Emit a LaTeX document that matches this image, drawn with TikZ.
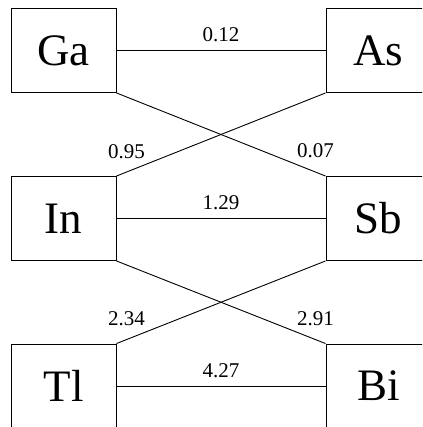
\documentclass[tikz,border=0pt]{standalone}
\usepackage{fontspec}
\newfontfamily\serifface{Liberation Serif}
\begin{document}
\begin{tikzpicture}[x=1pt,y=-1pt,
  elem/.style={draw, line width=0.9pt, rectangle, minimum width=105pt, minimum height=84pt, inner sep=0pt,
    font=\serifface\fontsize{45}{45}\selectfont},
  conn/.style={line width=0.9pt},
  num/.style={inner sep=0pt, font=\serifface\fontsize{21}{21}\selectfont}]
\useasboundingbox (0,0) rectangle (422,427);
\clip (0,0) rectangle (422,427);
\node[elem] (Ga) at (63.5,50.5) {Ga};
\node[elem] (In) at (63.5,218.5) {In};
\node[elem] (Tl) at (63.5,386) {Tl};
\node[elem] (As) at (378.5,50.5) {As};
\node[elem] (Sb) at (378.5,218.5) {Sb};
\node[elem] (Bi) at (378.5,386) {Bi};
\draw[conn] (Ga.east) -- node[num, above=8pt] (l012) {0.12} (As.west);
\draw[conn] (In.east) -- node[num, above=8pt] (l129) {1.29} (Sb.west);
\draw[conn] (Tl.east) -- node[num, above=8pt] (l427) {4.27} (Bi.west);
\draw[conn] (Ga.south east) -- (Sb.north west);
\draw[conn] (As.south west) -- (In.north east);
\draw[conn] (In.south east) -- (Bi.north west);
\draw[conn] (Sb.south west) -- (Tl.north east);
\node[num] (l095) at ([shift={(10,-24)}]In.north east) {0.95};
\node[num] (l007) at ([shift={(-10,-25)}]Sb.north west) {0.07};
\node[num] (l234) at ([shift={(10,-25)}]Tl.north east) {2.34};
\node[num] (l291) at ([shift={(-10,-25)}]Bi.north west) {2.91};
\end{tikzpicture}
\end{document}
